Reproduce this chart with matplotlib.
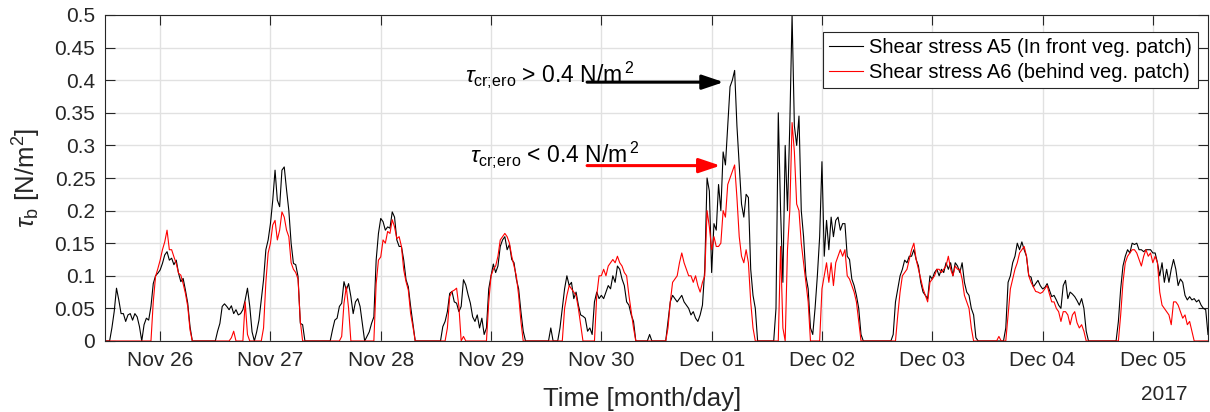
"""Bed shear stress at A5 / A6, 25 Nov - 5 Dec 2017."""

import numpy as np
import matplotlib

matplotlib.use("Agg")
import matplotlib.pyplot as plt
import matplotlib.dates as mdates
from matplotlib.ticker import FuncFormatter

plt.rcParams["font.family"] = ["Liberation Sans", "DejaVu Sans"]
plt.rcParams["mathtext.fontset"] = "custom"
plt.rcParams["mathtext.rm"] = "Liberation Sans"
plt.rcParams["mathtext.it"] = "Liberation Sans:italic"
plt.rcParams["mathtext.bf"] = "Liberation Sans:bold"

# half-hourly samples starting 25 Nov 2017 12:00 (values in N/m2)
start = np.datetime64("2017-11-25T12:00")
step = np.timedelta64(30, "m")

tau_a5 = [
    0, 0, 0, 0.02, 0.045, 0.081, 0.063, 0.042, 0.042, 0.03, 0.04, 0.042,
    0.032, 0.042, 0.037, 0.022, 0.0, 0.025, 0.035, 0.032, 0.053, 0.088, 0.1, 0.104,
    0.109, 0.119, 0.132, 0.137, 0.124, 0.127, 0.117, 0.124, 0.104, 0.091, 0.096, 0.078,
    0.058, 0.022, 0, 0, 0, 0, 0, 0, 0, 0, 0, 0,
    0, 0.015, 0.027, 0.053, 0.057, 0.053, 0.048, 0.054, 0.042, 0.048, 0.04, 0.042,
    0.048, 0.063, 0.081, 0.053, 0.014, 0, 0.014, 0.032, 0.063, 0.094, 0.14, 0.155,
    0.18, 0.216, 0.262, 0.216, 0.206, 0.262, 0.267, 0.232, 0.2, 0.15, 0.119, 0.117,
    0.099, 0.027, 0.025, 0, 0, 0, 0, 0, 0, 0, 0, 0,
    0, 0, 0, 0.017, 0.032, 0.035, 0.053, 0.058, 0.091, 0.078, 0.088, 0.068,
    0.042, 0.06, 0.065, 0.053, 0.027, 0, 0.007, 0.014, 0.027, 0.037, 0.124, 0.165,
    0.188, 0.183, 0.17, 0.175, 0.173, 0.198, 0.19, 0.155, 0.145, 0.145, 0.124, 0.094,
    0.083, 0.053, 0.027, 0, 0, 0, 0, 0, 0, 0, 0, 0,
    0, 0, 0, 0.022, 0.03, 0.045, 0.073, 0.076, 0.06, 0.058, 0.045, 0.053,
    0.094, 0.086, 0.071, 0.058, 0.037, 0.03, 0.04, 0.02, 0.035, 0.01, 0.02, 0.08,
    0.1, 0.118, 0.105, 0.115, 0.145, 0.155, 0.16, 0.14, 0.148, 0.125, 0.12, 0.095,
    0.08, 0.045, 0.015, 0, 0, 0, 0, 0, 0, 0, 0, 0,
    0, 0, 0.02, 0, 0, 0, 0.02, 0.05, 0.08, 0.1, 0.085, 0.09,
    0.065, 0.075, 0.055, 0.04, 0.038, 0.035, 0.015, 0.02, 0.01, 0.06, 0.075, 0.065,
    0.07, 0.065, 0.075, 0.085, 0.08, 0.1, 0.09, 0.115, 0.11, 0.095, 0.085, 0.06,
    0.055, 0.04, 0.03, 0, 0, 0, 0, 0, 0, 0.01, 0, 0,
    0, 0, 0, 0, 0, 0.03, 0.06, 0.07, 0.065, 0.06, 0.065, 0.07,
    0.06, 0.055, 0.05, 0.04, 0.045, 0.035, 0.03, 0.04, 0.055, 0.11, 0.25, 0.23,
    0.105, 0.18, 0.17, 0.24, 0.2, 0.29, 0.27, 0.33, 0.39, 0.4, 0.415, 0.33,
    0.27, 0.21, 0.19, 0.225, 0.22, 0.11, 0.07, 0.05, 0, 0, 0, 0,
    0, 0, 0, 0, 0.05, 0.35, 0.2, 0.09, 0.3, 0.2, 0.33, 0.5,
    0.33, 0.3, 0.345, 0.2, 0.16, 0.1, 0.08, 0.02, 0.01, 0.05, 0.1, 0.16,
    0.275, 0.13, 0.185, 0.14, 0.19, 0.16, 0.185, 0.19, 0.17, 0.18, 0.18, 0.13,
    0.125, 0.095, 0.085, 0.07, 0.05, 0.01, 0, 0, 0, 0, 0, 0,
    0, 0, 0, 0, 0, 0, 0, 0.01, 0.06, 0.08, 0.1, 0.11,
    0.124, 0.12, 0.13, 0.13, 0.14, 0.125, 0.115, 0.09, 0.075, 0.07, 0.065, 0.1,
    0.095, 0.105, 0.11, 0.1, 0.11, 0.105, 0.12, 0.11, 0.12, 0.1, 0.12, 0.115,
    0.105, 0.12, 0.09, 0.075, 0.07, 0.05, 0.04, 0.005, 0, 0, 0, 0,
    0, 0, 0, 0, 0, 0, 0, 0, 0.02, 0.09, 0.1, 0.12,
    0.13, 0.15, 0.14, 0.152, 0.14, 0.13, 0.1, 0.098, 0.083, 0.088, 0.093, 0.085,
    0.08, 0.082, 0.088, 0.078, 0.068, 0.07, 0.063, 0.055, 0.05, 0.085, 0.093, 0.065,
    0.075, 0.072, 0.068, 0.062, 0.055, 0.065, 0.05, 0.015, 0, 0, 0, 0,
    0, 0, 0, 0, 0, 0, 0, 0, 0, 0.03, 0.08, 0.115,
    0.13, 0.14, 0.135, 0.15, 0.148, 0.15, 0.14, 0.14, 0.137, 0.14, 0.14, 0.14,
    0.135, 0.135, 0.12, 0.1, 0.12, 0.09, 0.11, 0.09, 0.11, 0.125, 0.11, 0.085,
    0.095, 0.09, 0.07, 0.063, 0.068, 0.063, 0.065, 0.06, 0.063, 0.055, 0.05, 0.048,
    0.01,
]

tau_a6 = [
    0, 0, 0, 0, 0, 0, 0, 0, 0, 0, 0, 0,
    0, 0, 0, 0, 0, 0, 0, 0, 0, 0.06, 0.099, 0.111,
    0.124, 0.14, 0.152, 0.17, 0.14, 0.14, 0.129, 0.119, 0.104, 0.101, 0.088, 0.073,
    0.053, 0.017, 0, 0, 0, 0, 0, 0, 0, 0, 0, 0,
    0, 0, 0, 0, 0, 0, 0, 0.005, 0.015, 0, 0, 0,
    0, 0.06, 0.01, 0, 0, 0, 0, 0, 0, 0.02, 0.09, 0.135,
    0.15, 0.178, 0.185, 0.155, 0.17, 0.198, 0.19, 0.17, 0.16, 0.12, 0.11, 0.105,
    0.095, 0.03, 0, 0, 0, 0, 0, 0, 0, 0, 0, 0,
    0, 0, 0, 0, 0, 0, 0, 0.007, 0.058, 0.083, 0.05, 0,
    0, 0, 0, 0, 0, 0, 0, 0, 0, 0, 0.088, 0.124,
    0.129, 0.155, 0.15, 0.168, 0.165, 0.186, 0.175, 0.157, 0.16, 0.145, 0.109, 0.091,
    0.078, 0.042, 0.022, 0, 0, 0, 0, 0, 0, 0, 0, 0,
    0, 0, 0, 0, 0, 0.02, 0.068, 0.076, 0.078, 0.081, 0.053, 0,
    0.007, 0, 0, 0, 0, 0, 0, 0, 0, 0, 0, 0.06,
    0.1, 0.11, 0.115, 0.13, 0.155, 0.16, 0.165, 0.16, 0.15, 0.13, 0.115, 0.1,
    0.07, 0.03, 0, 0, 0, 0, 0, 0, 0, 0, 0, 0,
    0, 0, 0, 0, 0, 0, 0, 0, 0.05, 0.07, 0.085, 0.08,
    0.075, 0.07, 0.05, 0.025, 0, 0, 0, 0, 0, 0, 0.07, 0.1,
    0.1, 0.11, 0.1, 0.115, 0.12, 0.125, 0.12, 0.13, 0.12, 0.115, 0.105, 0.1,
    0.07, 0.045, 0.02, 0, 0, 0, 0, 0, 0, 0, 0, 0,
    0, 0, 0, 0, 0, 0.02, 0.06, 0.09, 0.095, 0.1, 0.12, 0.135,
    0.12, 0.11, 0.1, 0.1, 0.09, 0.1, 0.085, 0.075, 0.09, 0.1, 0.2, 0.175,
    0.14, 0.16, 0.145, 0.145, 0.15, 0.2, 0.19, 0.24, 0.25, 0.26, 0.27, 0.22,
    0.16, 0.13, 0.12, 0.14, 0.12, 0.06, 0.02, 0, 0, 0, 0, 0,
    0, 0, 0, 0, 0, 0, 0.145, 0.02, 0, 0.14, 0.2, 0.335,
    0.29, 0.21, 0.2, 0.15, 0.12, 0.09, 0.06, 0, 0, 0, 0, 0,
    0.08, 0.1, 0.12, 0.09, 0.12, 0.085, 0.12, 0.13, 0.14, 0.13, 0.14, 0.1,
    0.095, 0.085, 0.075, 0.06, 0.03, 0, 0, 0, 0, 0, 0, 0,
    0, 0, 0, 0, 0, 0, 0, 0, 0, 0.04, 0.075, 0.1,
    0.105, 0.11, 0.125, 0.14, 0.15, 0.125, 0.11, 0.095, 0.08, 0.07, 0.06, 0.09,
    0.095, 0.1, 0.11, 0.11, 0.105, 0.11, 0.115, 0.13, 0.11, 0.1, 0.115, 0.11,
    0.11, 0.095, 0.07, 0.06, 0.05, 0.02, 0, 0, 0, 0, 0, 0,
    0, 0, 0, 0, 0, 0.007, 0, 0, 0, 0.04, 0.08, 0.095,
    0.11, 0.12, 0.135, 0.14, 0.145, 0.13, 0.1, 0.09, 0.083, 0.076, 0.075, 0.073,
    0.075, 0.08, 0.085, 0.072, 0.06, 0.06, 0.05, 0.045, 0.03, 0.045, 0.045, 0.04,
    0.025, 0.04, 0.045, 0.028, 0.02, 0.025, 0.015, 0, 0, 0, 0, 0,
    0, 0, 0, 0, 0, 0, 0, 0, 0, 0, 0.04, 0.09,
    0.12, 0.13, 0.135, 0.14, 0.14, 0.135, 0.125, 0.115, 0.13, 0.14, 0.13, 0.135,
    0.12, 0.13, 0.12, 0.075, 0.055, 0.05, 0.045, 0.04, 0.025, 0.06, 0.06, 0.055,
    0.045, 0.035, 0.04, 0.025, 0.03, 0.015, 0, 0, 0, 0, 0, 0,
    0,
]

labels = ["Shear stress A5 (In front veg. patch)", "Shear stress A6 (behind veg. patch)"]

# annotation arrows: (tail hours, head hours, level) and text
arrow_hi = (104.9, 134.6, 0.397)
arrow_lo = (104.9, 133.9, 0.269)
text_hi = r"$\tau_{\mathrm{cr;\!ero}}$ > 0.4 N/m$^{\,2}$"
text_lo = r"$\tau_{\mathrm{cr;\!ero}}$ < 0.4 N/m$^{\,2}$"

axis_col = "#262626"


def hours(h):
    return start + np.timedelta64(int(round(h * 60)), "m")


t5 = start + np.arange(len(tau_a5)) * step
t6 = start + np.arange(len(tau_a6)) * step

fig = plt.figure(figsize=(12.1, 4.12), dpi=100)
ax = fig.add_axes([105 / 1210, 71 / 412, 1103 / 1210, 326 / 412])

ax.plot(t5, tau_a5, color="black", lw=0.8, label=labels[0])
ax.plot(t6, tau_a6, color="red", lw=0.8, label=labels[1])

ax.set_xlim(start, hours(240))
ax.set_ylim(0, 0.5)
ax.set_yticks(np.arange(0, 0.501, 0.05))
ax.yaxis.set_major_formatter(FuncFormatter(lambda v, p: f"{v:g}"))
ax.xaxis.set_major_locator(mdates.DayLocator())
ax.xaxis.set_major_formatter(mdates.DateFormatter("%b %d"))

ax.grid(True, color="#e1e1e1", lw=1.0)
ax.set_axisbelow(True)
ax.tick_params(direction="in", length=7, width=0.8, top=True, right=True,
               colors=axis_col, labelsize=15, pad=7)
for s in ax.spines.values():
    s.set_color(axis_col)
    s.set_linewidth(0.8)

ax.set_xlabel("Time [month/day]", fontsize=18.5, color=axis_col)
ax.xaxis.set_label_coords(0.487, -0.14)
ax.set_ylabel(r"$\tau_{\mathrm{b}}$ [N/m$^2$]", fontsize=18.5, color=axis_col, labelpad=8)
fig.text(1187 / 1210, 1 - 395 / 412, "2017", fontsize=15, color=axis_col,
         ha="right", va="center")

# critical erosion threshold arrows
for (t0, t1, lev), txt, col, ty, x_txt in [(arrow_hi, text_hi, "black", 0.397, 78.3),
                                            (arrow_lo, text_lo, "red", 0.275, 79.4)]:
    ax.annotate("", xy=(hours(t1), lev), xytext=(hours(t0), lev),
                arrowprops=dict(arrowstyle="-|>,head_length=0.65,head_width=0.22",
                                color=col, lw=2.2, shrinkA=0, shrinkB=0,
                                mutation_scale=20))
    ax.text(hours(x_txt), ty, txt, fontsize=16.5, color="black",
            ha="left", va="baseline")

leg = ax.legend(loc="upper right", bbox_to_anchor=(0.991, 0.948), borderaxespad=0,
                fontsize=14.5, fancybox=False, framealpha=1, edgecolor=axis_col,
                handlelength=1.7, handletextpad=0.3, labelspacing=0.3, borderpad=0.3)
leg.get_frame().set_linewidth(0.8)

fig.savefig("out.png", dpi=100)
